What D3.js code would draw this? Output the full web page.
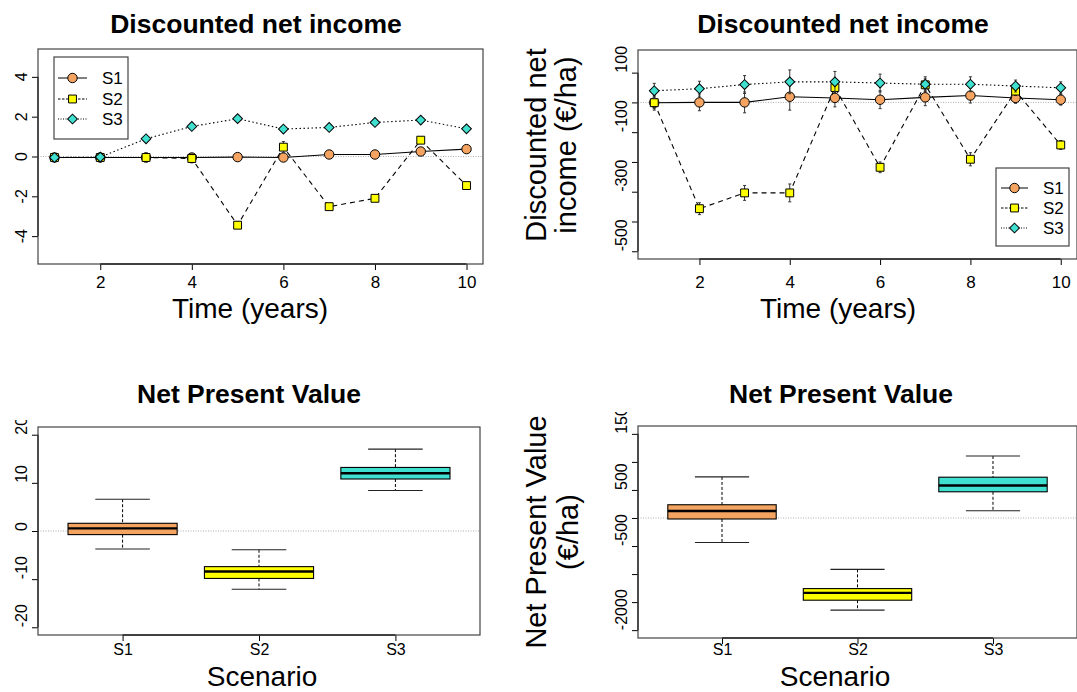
<!DOCTYPE html>
<html>
<head>
<meta charset="utf-8">
<script src="https://cdn.jsdelivr.net/npm/d3@7"></script>
<style>
body { margin: 0; background: #fff; }
text { font-family: "Liberation Sans", Arial, sans-serif; }
</style>
</head>
<body>
<script>
var WIDTH = 1077;
var HEIGHT = 692;

var years = [1, 2, 3, 4, 5, 6, 7, 8, 9, 10];
var scenarios = ["S1", "S2", "S3"];
var fills = ["#F4A460", "#FFFF00", "#40E0D0"];
var dashes = ["none", "5,4", "1.5,2.5"];
var shapes = ["circle", "square", "diamond"];

// top left: discounted net income (relative units)
var relS1 = [-0.05, -0.05, -0.05, -0.05, -0.03, -0.05, 0.10, 0.10, 0.25, 0.37];
var relS2 = [-0.05, -0.05, -0.05, -0.10, -3.45, 0.47, -2.52, -2.10, 0.82, -1.46];
var relS3 = [-0.05, -0.03, 0.89, 1.51, 1.90, 1.38, 1.46, 1.71, 1.83, 1.39];
var relErr1 = [0.12, 0.12, 0.15, 0.15, 0.12, 0.15, 0.10, 0.10, 0.10, 0.10];
var relErr2 = [0.10, 0.10, 0.22, 0.22, 0.15, 0.28, 0.15, 0.15, 0.15, 0.10];
var relErr3 = [0.10, 0.10, 0.15, 0.15, 0.15, 0.15, 0.12, 0.12, 0.10, 0.10];

// top right: discounted net income (EUR/ha)
var eurS1 = [-1, 0, 0, 19, 15, 9, 17, 23, 15, 9];
var eurS2 = [-1, -357, -304, -304, 50, -218, 59, -191, 38, -143];
var eurS3 = [39, 46, 60, 69, 69, 65, 61, 61, 55, 49];
var eurErr1 = [25, 28, 35, 45, 30, 30, 28, 25, 18, 18];
var eurErr2 = [20, 20, 25, 30, 20, 18, 20, 22, 15, 15];
var eurErr3 = [25, 25, 30, 40, 35, 30, 25, 25, 20, 20];

// bottom left: net present value (relative units)
var npvLo  = [-3.75, -12.1, 8.4];
var npvQ1  = [-0.75, -9.85, 10.8];
var npvMed = [0.55, -8.4, 12.0];
var npvQ3  = [1.6, -7.4, 13.2];
var npvHi  = [6.6, -3.9, 17.0];

// bottom right: net present value (EUR/ha)
var npvEurLo  = [-437, -1643, 130];
var npvEurQ1  = [-18, -1466, 467];
var npvEurMed = [124, -1336, 579];
var npvEurQ3  = [236, -1259, 727];
var npvEurHi  = [732, -916, 1105];

var yearTicks = [2, 4, 6, 8, 10];
var relTicks = [-4, -2, 0, 2, 4];
var eurTicks = [-500, -400, -300, -200, -100, 0, 100];
var eurTickLabels = [-500, -300, -100, 100];
var npvTicks = [-20, -10, 0, 10, 20];
var npvEurTicks = [-2000, -1500, -1000, -500, 0, 500, 1000, 1500];
var npvEurTickLabels = [-2000, -500, 500, 1500];

var svg = d3.select("body")
	.append("svg")
	.attr("width", WIDTH)
	.attr("height", HEIGHT);

svg.append("rect").attr("width", WIDTH).attr("height", HEIGHT).attr("fill", "#fff");

// the topmost tick label of the bottom panels is cut by the figure edge
var defs = svg.append("defs");
defs.append("clipPath").attr("id", "clipL")
	.append("rect").attr("x", 0).attr("y", 420).attr("width", 500).attr("height", 300);
defs.append("clipPath").attr("id", "clipR")
	.append("rect").attr("x", 500).attr("y", 412).attr("width", 600).attr("height", 300);

var symbolPath = function(shape) {
	if (shape == "circle") return d3.symbol(d3.symbolCircle, 70)();
	if (shape == "square") return d3.symbol(d3.symbolSquare, 62)();
	return d3.symbol(d3.symbolSquare, 48)();
};

var drawFrame = function(box, x, y, o) {
	// zero reference line
	svg.append("line")
		.attr("x1", box.x0).attr("x2", box.x1)
		.attr("y1", y(0)).attr("y2", y(0))
		.attr("stroke", "#999").attr("stroke-width", 0.8).attr("stroke-dasharray", "1,1.5");

	// x axis
	var gx = svg.append("g")
		.attr("transform", "translate(0," + box.y1 + ")")
		.call(d3.axisBottom(x).tickValues(o.xTicks).tickSize(6).tickSizeOuter(0));
	gx.select(".domain").remove();
	gx.selectAll("text").attr("font-size", o.xFont).attr("fill", "#000")
		.attr("dy", 0).attr("y", o.xLabelY);
	gx.selectAll("line").attr("stroke", "#000");
	svg.append("line")
		.attr("x1", x(o.xTicks[0])).attr("x2", x(o.xTicks[o.xTicks.length - 1]))
		.attr("y1", box.y1).attr("y2", box.y1).attr("stroke", "#000").attr("stroke-width", 1.3);

	// y axis
	var gy = svg.append("g")
		.attr("transform", "translate(" + box.x0 + ",0)")
		.call(d3.axisLeft(y).tickValues(o.yTicks).tickSize(6).tickSizeOuter(0).tickFormat(""));
	gy.select(".domain").remove();
	gy.selectAll("line").attr("stroke", "#000");
	svg.append("line")
		.attr("x1", box.x0).attr("x2", box.x0)
		.attr("y1", y(o.yTicks[0])).attr("y2", y(o.yTicks[o.yTicks.length - 1]))
		.attr("stroke", "#000").attr("stroke-width", 1.3);

	var gl = svg.append("g");
	if (o.clip) gl.attr("clip-path", "url(#" + o.clip + ")");
	gl.selectAll("text")
		.data(o.yLabels)
		.enter()
		.append("text")
		.attr("transform", function(d) { return "translate(" + (box.x0 - 11) + "," + y(d) + ") rotate(-90)"; })
		.attr("text-anchor", o.yAnchor)
		.attr("font-size", 16)
		.text(function(d) { return d; });

	// box
	svg.append("rect")
		.attr("x", box.x0).attr("y", box.y0)
		.attr("width", box.x1 - box.x0).attr("height", box.y1 - box.y0)
		.attr("fill", "none").attr("stroke", "#444").attr("stroke-width", 1.2);

	// titles
	svg.append("text")
		.attr("x", o.titleX).attr("y", o.titleY)
		.attr("text-anchor", "middle").attr("font-size", 26.5).attr("font-weight", "bold")
		.text(o.title);
	svg.append("text")
		.attr("x", o.xlabX).attr("y", o.xlabY)
		.attr("text-anchor", "middle").attr("font-size", 28)
		.text(o.xlab);
	if (o.ylab) {
		for (var i = 0; i < o.ylab.length; i++) {
			svg.append("text")
				.attr("transform", "translate(" + o.ylabX[i] + "," + o.ylabY + ") rotate(-90)")
				.attr("text-anchor", "middle").attr("font-size", 29)
				.text(o.ylab[i]);
		}
	}
};

var drawSeries = function(x, y, vals, errs, k) {
	var pts = years.map(function(yr, i) { return [yr, vals[i], errs[i]]; });
	svg.append("path")
		.datum(pts)
		.attr("d", d3.line().x(function(d) { return x(d[0]); }).y(function(d) { return y(d[1]); }))
		.attr("fill", "none").attr("stroke", "#000").attr("stroke-width", 1.1)
		.attr("stroke-dasharray", dashes[k]);
	var eb = svg.append("g").attr("stroke", "#333").attr("stroke-width", 1);
	pts.forEach(function(d) {
		eb.append("line").attr("x1", x(d[0])).attr("x2", x(d[0]))
			.attr("y1", y(d[1] - d[2])).attr("y2", y(d[1] + d[2]));
		eb.append("line").attr("x1", x(d[0]) - 1.5).attr("x2", x(d[0]) + 1.5)
			.attr("y1", y(d[1] - d[2])).attr("y2", y(d[1] - d[2]));
		eb.append("line").attr("x1", x(d[0]) - 1.5).attr("x2", x(d[0]) + 1.5)
			.attr("y1", y(d[1] + d[2])).attr("y2", y(d[1] + d[2]));
	});
	svg.append("g").selectAll("path")
		.data(pts)
		.enter()
		.append("path")
		.attr("d", symbolPath(shapes[k]))
		.attr("transform", function(d) {
			return "translate(" + x(d[0]) + "," + y(d[1]) + ")" + (shapes[k] == "diamond" ? " rotate(45)" : "");
		})
		.attr("fill", fills[k]).attr("stroke", "#000").attr("stroke-width", 1);
};

var drawLegend = function(lx, ly, w, h, rowY, lineX0, lineX1, textX) {
	svg.append("rect").attr("x", lx).attr("y", ly).attr("width", w).attr("height", h)
		.attr("fill", "#fff").attr("stroke", "#444").attr("stroke-width", 1.2);
	scenarios.forEach(function(s, k) {
		var yy = ly + rowY[k];
		svg.append("line").attr("x1", lx + lineX0).attr("x2", lx + lineX1)
			.attr("y1", yy).attr("y2", yy)
			.attr("stroke", "#000").attr("stroke-width", 1)
			.attr("stroke-dasharray", k == 0 ? "none" : (k == 1 ? "2.5,1.5" : "1,1.5"));
		svg.append("path").attr("d", symbolPath(shapes[k]))
			.attr("transform", "translate(" + (lx + (lineX0 + lineX1) / 2) + "," + yy + ")" + (shapes[k] == "diamond" ? " rotate(45)" : ""))
			.attr("fill", fills[k]).attr("stroke", "#000").attr("stroke-width", 1);
		svg.append("text").attr("x", lx + textX).attr("y", yy + 6)
			.attr("font-size", 17).text(s);
	});
};

var drawBoxes = function(x, y, bw, lo, q1, med, q3, hi) {
	scenarios.forEach(function(s, k) {
		var cx = x(s);
		var g = svg.append("g");
		g.append("line").attr("x1", cx).attr("x2", cx).attr("y1", y(hi[k])).attr("y2", y(q3[k]))
			.attr("stroke", "#000").attr("stroke-dasharray", "3,2");
		g.append("line").attr("x1", cx).attr("x2", cx).attr("y1", y(q1[k])).attr("y2", y(lo[k]))
			.attr("stroke", "#000").attr("stroke-dasharray", "3,2");
		g.append("line").attr("x1", cx - bw / 4).attr("x2", cx + bw / 4).attr("y1", y(hi[k])).attr("y2", y(hi[k]))
			.attr("stroke", "#222").attr("stroke-width", 1.1);
		g.append("line").attr("x1", cx - bw / 4).attr("x2", cx + bw / 4).attr("y1", y(lo[k])).attr("y2", y(lo[k]))
			.attr("stroke", "#222").attr("stroke-width", 1.1);
		g.append("rect").attr("x", cx - bw / 2).attr("y", y(q3[k]))
			.attr("width", bw).attr("height", y(q1[k]) - y(q3[k]))
			.attr("fill", fills[k]).attr("stroke", "#000").attr("stroke-width", 1.1);
		g.append("line").attr("x1", cx - bw / 2).attr("x2", cx + bw / 2).attr("y1", y(med[k])).attr("y2", y(med[k]))
			.attr("stroke", "#000").attr("stroke-width", 2.4);
	});
};

// ---- panel 1: top left
var box1 = {x0: 38, x1: 483, y0: 49, y1: 264};
var x1 = d3.scaleLinear().domain([0.64, 10.36]).range([box1.x0, box1.x1]);
var y1 = d3.scaleLinear().domain([-5.4, 5.4]).range([box1.y1, box1.y0]);
drawFrame(box1, x1, y1, {
	xTicks: yearTicks, xFont: 17, xLabelY: 24, yTicks: relTicks, yLabels: relTicks, yAnchor: "middle",
	title: "Discounted net income", titleX: 256, titleY: 33,
	xlab: "Time (years)", xlabX: 250, xlabY: 318
});
drawSeries(x1, y1, relS1, relErr1, 0);
drawSeries(x1, y1, relS2, relErr2, 1);
drawSeries(x1, y1, relS3, relErr3, 2);
drawLegend(54, 57, 74, 82, [21, 42, 62], 4, 33, 48);

// ---- panel 2: top right
var box2 = {x0: 638, x1: 1077, y0: 50, y1: 259};
var x2 = d3.scaleLinear().domain([0.64, 10.36]).range([box2.x0, box2.x1]);
var y2 = d3.scaleLinear().domain([-526, 176]).range([box2.y1, box2.y0]);
drawFrame(box2, x2, y2, {
	xTicks: yearTicks, xFont: 17, xLabelY: 29, yTicks: eurTicks, yLabels: eurTickLabels, yAnchor: "start",
	title: "Discounted net income", titleX: 843, titleY: 33,
	xlab: "Time (years)", xlabX: 838, xlabY: 318,
	ylab: ["Discounted net", "income (\u20ac/ha)"], ylabX: [546, 576], ylabY: 145
});
drawSeries(x2, y2, eurS1, eurErr1, 0);
drawSeries(x2, y2, eurS2, eurErr2, 1);
drawSeries(x2, y2, eurS3, eurErr3, 2);
drawLegend(996, 168, 73, 78, [20, 40, 60], 5, 32, 47);

// ---- panel 3: bottom left (boxplot positions 1..3 on a 0.38..3.62 range)
var box3 = {x0: 38, x1: 480, y0: 427, y1: 635};
var u3 = (box3.x1 - box3.x0) / 3.24;
var x3 = d3.scalePoint().domain(scenarios).range([box3.x0 + 0.62 * u3, box3.x1 - 0.62 * u3]);
var y3 = d3.scaleLinear().domain([-21.6, 21.6]).range([box3.y1, box3.y0]);
drawFrame(box3, x3, y3, {
	xTicks: scenarios, xFont: 16, xLabelY: 20, yTicks: npvTicks, yLabels: npvTicks, yAnchor: "start", clip: "clipL",
	title: "Net Present Value", titleX: 249, titleY: 403,
	xlab: "Scenario", xlabX: 262, xlabY: 686
});
drawBoxes(x3, y3, 0.8 * u3, npvLo, npvQ1, npvMed, npvQ3, npvHi);

// ---- panel 4: bottom right
var box4 = {x0: 638, x1: 1077, y0: 426, y1: 638};
var u4 = (box4.x1 - box4.x0) / 3.24;
var x4 = d3.scalePoint().domain(scenarios).range([box4.x0 + 0.62 * u4, box4.x1 - 0.62 * u4]);
var y4 = d3.scaleLinear().domain([-2140, 1640]).range([box4.y1, box4.y0]);
drawFrame(box4, x4, y4, {
	xTicks: scenarios, xFont: 16, xLabelY: 17, yTicks: npvEurTicks, yLabels: npvEurTickLabels, yAnchor: "start", clip: "clipR",
	title: "Net Present Value", titleX: 841, titleY: 403,
	xlab: "Scenario", xlabX: 835, xlabY: 686,
	ylab: ["Net Present Value", "(\u20ac/ha)"], ylabX: [546, 578], ylabY: 532
});
drawBoxes(x4, y4, 0.8 * u4, npvEurLo, npvEurQ1, npvEurMed, npvEurQ3, npvEurHi);
</script>
</body>
</html>
